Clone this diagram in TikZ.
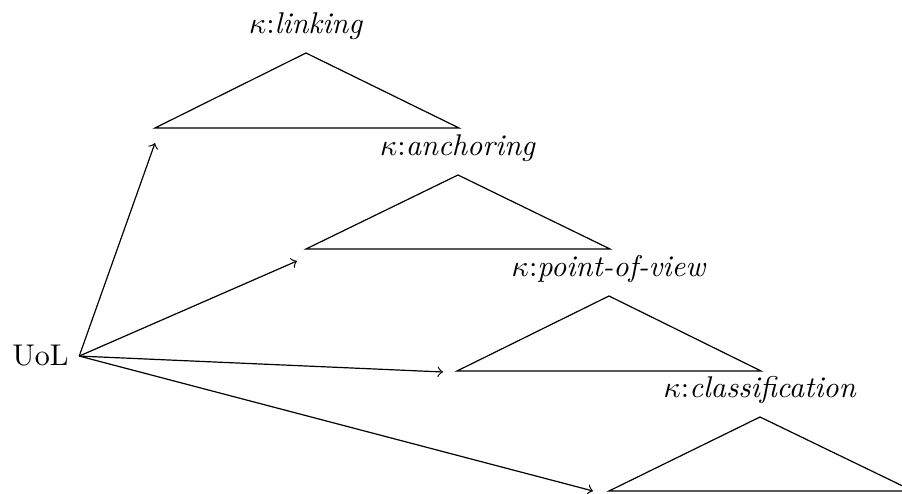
\documentclass[tikz,border=0pt]{standalone}
\begin{document}
\begin{tikzpicture}[x=0.3333pt,y=-0.3333pt,
  tri/.style={draw,line join=miter},
  lbl/.style={anchor=base,inner sep=0pt},
  link/.style={->}]
\useasboundingbox (0,0) rectangle (902,494);
% root node
\node[anchor=base] (uol) at (40.5,366) {UoL};
% triangles: apex, base-left, base-right
\coordinate (a1) at (306,53);  \coordinate (l1) at (155,128); \coordinate (r1) at (459,128);
\coordinate (a2) at (458,175); \coordinate (l2) at (306,249); \coordinate (r2) at (610,249);
\coordinate (a3) at (609,296); \coordinate (l3) at (457,371); \coordinate (r3) at (761,371);
\coordinate (a4) at (760,417); \coordinate (l4) at (609,491); \coordinate (r4) at (913,491);
\draw[tri] (a1) -- (l1) -- (r1) -- cycle;
\draw[tri] (a2) -- (l2) -- (r2) -- cycle;
\draw[tri] (a3) -- (l3) -- (r3) -- cycle;
\draw[tri] (a4) -- (l4) -- (r4) -- cycle;
% labels above the apexes
\node[lbl] (k1) at (306,34)  {$\kappa$:\textit{linking}};
\node[lbl] (k2) at (458,156) {$\kappa$:\textit{anchoring}};
\node[lbl] (k3) at (609,277) {$\kappa$:\textit{point-of-view}};
\node[lbl] (k4) at (760,398) {$\kappa$:\textit{classification}};
% arrow targets
\coordinate (t1) at (155,143);
\coordinate (t2) at (297,261);
\coordinate (t3) at (443,372);
\coordinate (t4) at (593,491);
\draw[link] (uol.east) -- (t1);
\draw[link] (uol.east) -- (t2);
\draw[link] (uol.east) -- (t3);
\draw[link] (uol.east) -- (t4);
\end{tikzpicture}
\end{document}
